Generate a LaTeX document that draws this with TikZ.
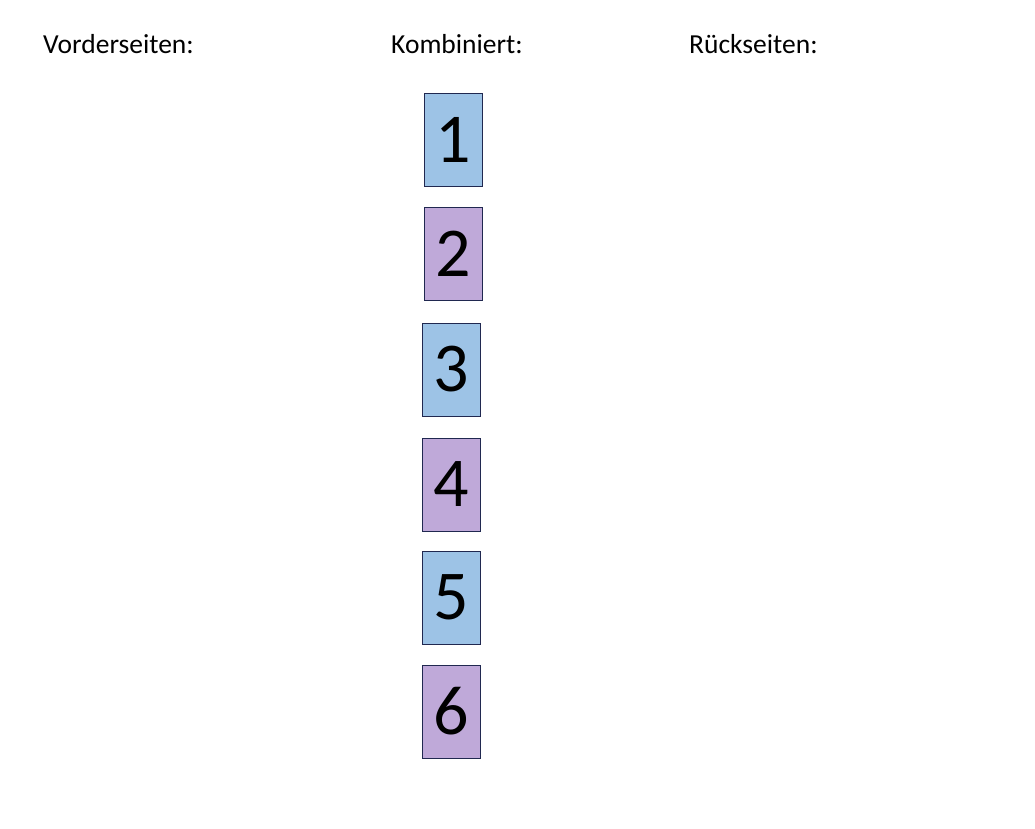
\documentclass[tikz,border=0pt]{standalone}
\usepackage{fontspec}
\setmainfont{Carlito}
\definecolor{cblue}{RGB}{157,195,230}
\definecolor{cpurple}{RGB}{191,169,217}
\definecolor{cedge}{RGB}{32,40,80}
\begin{document}
\begin{tikzpicture}[x=1pt,y=-1pt,
  card/.style={draw=cedge,line width=0.8pt,minimum width=58pt,minimum height=93pt,inner sep=0pt,font=\fontsize{70}{70}\selectfont},
  bluecard/.style={card,fill=cblue},
  purplecard/.style={card,fill=cpurple},
  head/.style={anchor=base west,inner sep=0pt,font=\fontsize{27.5}{27.5}\selectfont}]
\useasboundingbox (0,0) rectangle (1035,828);
\node[head] (v) at (43,53) {Vorderseiten:};
\node[head] (k) at (391,53) {Kombiniert:};
\node[head] (r) at (689,53) {Rückseiten:};
\node[bluecard] (c1) at (453,139.5) {1};
\node[purplecard] (c2) at (453,253.5) {2};
\node[bluecard] (c3) at (451,369.5) {3};
\node[purplecard] (c4) at (451,484.5) {4};
\node[bluecard] (c5) at (451,597.5) {5};
\node[purplecard] (c6) at (451,711.5) {6};
\end{tikzpicture}
\end{document}
